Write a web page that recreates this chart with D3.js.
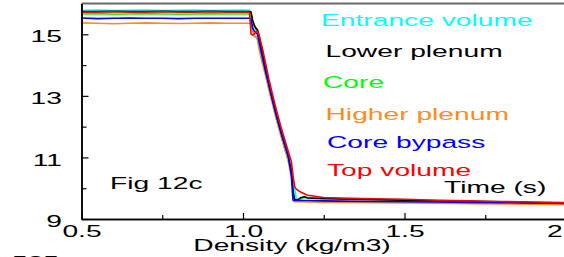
<!DOCTYPE html>
<html>
<head>
<meta charset="utf-8">
<script src="https://cdn.jsdelivr.net/npm/d3@7"></script>
<style>
  body { margin: 0; background: #fff; }
  text { font-family: "Liberation Sans", Arial, sans-serif; }
</style>
</head>
<body>
<div id="panel"></div>
<script>
// densidad (kg/m3) comun a todas las series
var densidad = [0.5, 0.55, 0.6, 0.65, 0.7, 0.75, 0.8, 0.85, 0.9, 0.95, 1.0,
  1.02, 1.025, 1.03, 1.035, 1.04, 1.045,
  1.05, 1.06, 1.07, 1.08, 1.09, 1.10, 1.11, 1.12, 1.13, 1.14, 1.15,
  1.155, 1.16, 1.165, 1.17, 1.18, 1.19, 1.2, 1.25, 1.3,
  1.4, 1.5, 1.6, 1.7, 1.8, 1.9, 2.0];

var entrada = [15.77, 15.79, 15.77, 15.78, 15.79, 15.77, 15.78, 15.79, 15.77, 15.78, 15.79,
  15.78, 15.6, 15.1, 14.92, 14.95, 14.9,
  14.6, 14.15, 13.7, 13.3, 12.88, 12.45, 12.05, 11.65, 11.25, 10.9, 10.55,
  10.25, 9.95, 9.65, 9.6, 9.6, 9.59, 9.59, 9.58, 9.57,
  9.56, 9.55, 9.54, 9.53, 9.52, 9.51, 9.5];
var plenumInf = [15.74, 15.74, 15.75, 15.74, 15.74, 15.75, 15.74, 15.74, 15.75, 15.74, 15.74,
  15.74, 15.72, 15.45, 15.3, 15.2, 15.14,
  14.95, 14.4, 13.85, 13.4, 12.95, 12.52, 12.12, 11.75, 11.4, 11.05, 10.55,
  9.9, 9.62, 9.62, 9.63, 9.7, 9.72, 9.68, 9.66, 9.65,
  9.63, 9.61, 9.59, 9.57, 9.55, 9.53, 9.51];
var nucleo = [15.66, 15.67, 15.65, 15.66, 15.67, 15.66, 15.65, 15.66, 15.67, 15.66, 15.66,
  15.66, 15.65, 15.4, 15.25, 15.15, 15.08,
  14.9, 14.35, 13.82, 13.38, 12.93, 12.5, 12.1, 11.72, 11.37, 11.02, 10.5,
  9.85, 9.63, 9.62, 9.62, 9.66, 9.7, 9.7, 9.68, 9.66,
  9.64, 9.62, 9.6, 9.58, 9.56, 9.54, 9.52];
var plenumSup = [15.37, 15.36, 15.34, 15.36, 15.37, 15.36, 15.35, 15.36, 15.37, 15.36, 15.36,
  15.36, 15.35, 15.1, 14.95, 14.9, 14.82,
  14.5, 14.05, 13.65, 13.2, 12.78, 12.36, 11.97, 11.6, 11.25, 10.9, 10.3,
  9.6, 9.56, 9.56, 9.56, 9.56, 9.55, 9.55, 9.54, 9.54,
  9.53, 9.52, 9.51, 9.5, 9.49, 9.48, 9.46];
var bypass = [15.53, 15.51, 15.52, 15.53, 15.52, 15.52, 15.51, 15.52, 15.52, 15.52, 15.52,
  15.52, 15.5, 15.2, 15.1, 15.05, 15.0,
  14.75, 14.25, 13.78, 13.35, 12.9, 12.48, 12.1, 11.72, 11.38, 11.05, 10.4,
  9.62, 9.6, 9.6, 9.6, 9.6, 9.6, 9.6, 9.59, 9.58,
  9.57, 9.56, 9.55, 9.54, 9.53, 9.52, 9.5];
var superior = [15.72, 15.72, 15.73, 15.72, 15.72, 15.73, 15.72, 15.72, 15.73, 15.72, 15.72,
  15.72, 15.0, 14.98, 15.0, 15.08, 15.1,
  14.95, 14.55, 14.05, 13.55, 13.1, 12.68, 12.28, 11.9, 11.55, 11.2, 10.85,
  10.4, 10.05, 9.97, 9.93, 9.87, 9.82, 9.77, 9.7, 9.68,
  9.66, 9.64, 9.61, 9.59, 9.57, 9.55, 9.53];

var nombres = ["Entrance volume", "Lower plenum", "Core", "Higher plenum", "Core bypass", "Top volume"];
var colores = ["#00ffff", "#000000", "#00ff00", "#ff8c1a", "#0000ff", "#ff0000"];
var series = [entrada, plenumInf, nucleo, plenumSup, bypass, superior];
var ordenDibujo = [0, 3, 2, 1, 4, 5];

var ticksY = [9, 11, 13, 15];
var ticksYMenor = [10, 12, 14];
var ticksX = [0.5, 1.0, 1.5, 2.0];
var ticksXMenor = [0.75, 1.25, 1.75];

var w = 564;
var h = 257;
var estirar = 1.66; // el texto original esta estirado a lo ancho

var svg = d3.select('#panel')
  .append('svg')
  .attr("width", w)
  .attr("height", h);

var x = d3.scaleLinear().domain([0.5, 2.0]).range([81.5, 566]);
var y = d3.scaleLinear().domain([9, 16]).range([219, 3.5]);

// marco superior gris
svg.append("line")
  .attr("x1", x(0.5)).attr("x2", x(2.0))
  .attr("y1", y(16)).attr("y2", y(16))
  .attr("stroke", "#6a6a6a")
  .attr("stroke-width", 2);

var linea = d3.line()
  .x(function (d) { return x(d[0]); })
  .y(function (d) { return y(d[1]); });

ordenDibujo.forEach(function (s) {
  var pts = densidad.map(function (d, i) { return [d, series[s][i]]; });
  svg.append("path")
    .attr("d", linea(pts))
    .attr("fill", "none")
    .attr("stroke", colores[s])
    .attr("stroke-width", 1.6)
    .attr("stroke-linejoin", "round");
});

// ejes
var ejeY = svg.append("g")
  .attr("transform", "translate(" + x(0.5) + ",0)")
  .call(d3.axisLeft(y).tickValues(ticksY).tickSizeInner(-7).tickSizeOuter(0).tickPadding(0).tickFormat(d3.format("d")));
svg.append("g")
  .attr("transform", "translate(" + x(0.5) + ",0)")
  .call(d3.axisLeft(y).tickValues(ticksYMenor).tickSizeInner(-5).tickSizeOuter(0).tickFormat(""));

var ejeX = svg.append("g")
  .attr("transform", "translate(0," + y(9) + ")")
  .call(d3.axisBottom(x).tickValues(ticksX).tickSizeInner(-6).tickSizeOuter(0).tickPadding(6).tickFormat(d3.format(".1f")));
svg.append("g")
  .attr("transform", "translate(0," + y(9) + ")")
  .call(d3.axisBottom(x).tickValues(ticksXMenor).tickSizeInner(-4).tickSizeOuter(0).tickFormat(""));

svg.selectAll(".domain").attr("stroke", "#000").attr("stroke-width", 1.5);
svg.selectAll(".tick line").attr("stroke", "#000").attr("stroke-width", 1.2);

ejeY.selectAll("text")
  .attr("font-size", 17)
  .attr("fill", "#000")
  .attr("x", -19.5 / estirar)
  .attr("dy", "0.45em")
  .attr("transform", "scale(" + estirar + ",1)");
ejeX.selectAll("text")
  .attr("font-size", 17)
  .attr("fill", "#000")
  .attr("transform", "scale(" + estirar + ",1)");

function texto(t, px, py, color, ancla) {
  svg.append("text")
    .attr("transform", "translate(" + px + "," + py + ") scale(" + estirar + ",1)")
    .attr("font-size", 17)
    .attr("text-anchor", ancla || "start")
    .attr("fill", color)
    .text(t);
}

// leyenda
var leyendaX = [321, 325.5, 323, 325.5, 327, 327];
var leyendaY = [26, 56.7, 88.3, 119.5, 148.3, 175.8];
nombres.forEach(function (n, i) {
  texto(n, leyendaX[i], leyendaY[i], colores[i]);
});

texto("Time (s)", 444, 193, "#000");
texto("Fig 12c", 110, 188.5, "#000");
texto("Density (kg/m3)", 292, 251, "#000", "middle");
texto("535", 12, 268, "#000");
</script>
</body>
</html>
